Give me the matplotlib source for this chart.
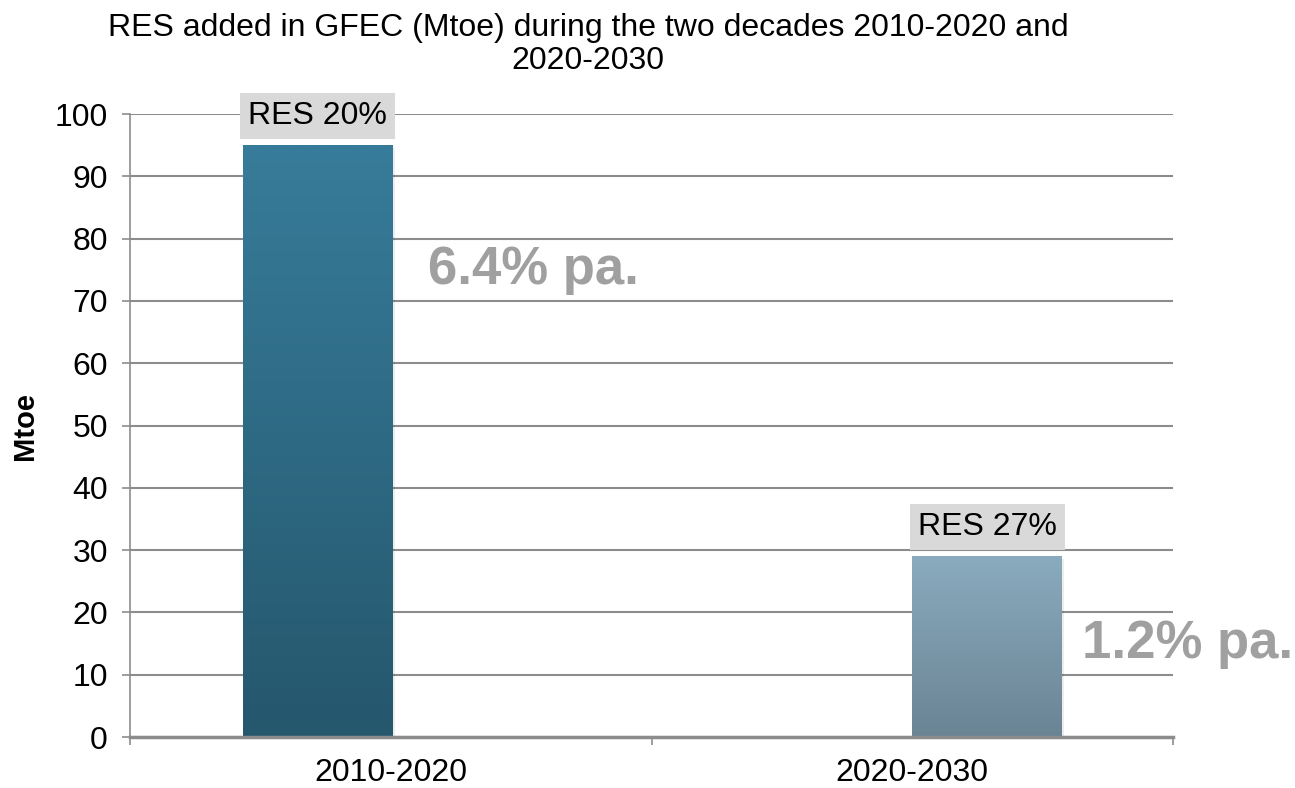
import matplotlib.pyplot as plt
import numpy as np
from matplotlib.patches import Rectangle
from matplotlib.colors import LinearSegmentedColormap

plt.rcParams['font.family'] = ['Liberation Sans', 'DejaVu Sans']

# data
categories = ['2010-2020', '2020-2030']
values = [95, 29]
res_labels = ['RES 20%', 'RES 27%']
growth_labels = ['6.4% pa.', '1.2% pa.']
title = 'RES added in GFEC (Mtoe) during the two decades 2010-2020 and\n2020-2030'

# top colour, bottom colour for each bar
bar_colors = [('#377c9a', '#25576d'), ('#8aabbe', '#6a8494')]

fig = plt.figure(figsize=(12.95, 7.88), dpi=100)
ax = fig.add_axes([0.1004, 0.0647, 0.8054, 0.7906])

grid_c = '#8c8c8c'
ax.set_xlim(0, 2)
ax.set_ylim(0, 100)
ax.set_yticks(np.arange(0, 101, 10))
ax.set_xticks([0, 1, 2])
ax.set_xticklabels([])
ax.set_xticks([0.5, 1.5], minor=True)
ax.set_xticklabels(categories, minor=True)
ax.tick_params(axis='x', which='minor', length=0, labelsize=23, pad=15)
ax.tick_params(axis='x', which='major', length=6, color=grid_c, width=1.2)
ax.tick_params(axis='y', length=6, color=grid_c, width=1.2, labelsize=23, pad=10)
ax.yaxis.grid(True, color=grid_c, linewidth=1.5)
ax.set_axisbelow(True)
for s in ['top', 'right']:
    ax.spines[s].set_visible(False)
ax.spines['left'].set_color(grid_c)
ax.spines['left'].set_linewidth(1.2)
ax.spines['bottom'].set_color(grid_c)
ax.spines['bottom'].set_linewidth(2.5)
ax.spines['bottom'].set_zorder(5)

ax.set_ylabel('Mtoe', fontsize=21, fontweight='bold', labelpad=11)

# two series: first bar sits left of its category centre, second bar right of it
w = 0.2876
pos = np.array([0.5 - w / 2 + 0.004, 1.5 + w / 2])
grad = np.linspace(0, 1, 256).reshape(-1, 1)
for i, (x, v) in enumerate(zip(pos, values)):
    # soft shadow
    ax.add_patch(Rectangle((x - w / 2 + 0.004, -0.5), w, v, facecolor='#000000',
                           alpha=0.07, edgecolor='none', zorder=2))
    rect = Rectangle((x - w / 2, 0), w, v, facecolor='none', edgecolor='none', zorder=3)
    ax.add_patch(rect)
    cmap = LinearSegmentedColormap.from_list('g%d' % i, [bar_colors[i][1], bar_colors[i][0]])
    im = ax.imshow(grad, extent=(x - w / 2, x + w / 2, 0, v), origin='lower',
                   cmap=cmap, aspect='auto', zorder=3)
    im.set_clip_path(rect)
    ax.annotate(res_labels[i], (x, v), xytext=(0, 21), textcoords='offset points',
                ha='center', va='center', fontsize=23, zorder=6,
                bbox=dict(boxstyle='square,pad=0.25', facecolor='#d9d9d9', edgecolor='none'))

ax.text(0.571, 75.0, growth_labels[0], fontsize=38, fontweight='bold', color='#a0a0a0',
        ha='left', va='center', zorder=6)
ax.text(1.826, 14.9, growth_labels[1], fontsize=38, fontweight='bold', color='#a0a0a0',
        ha='left', va='center', zorder=6, clip_on=False)

fig.text(0.454, 0.983, title, ha='center', va='top', fontsize=23, linespacing=1.12)

fig.savefig('out.png', dpi=100)
